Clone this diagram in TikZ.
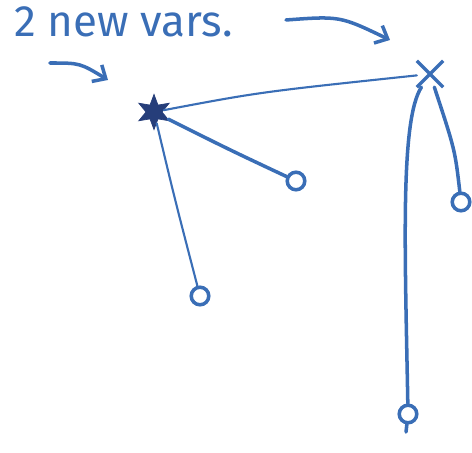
\documentclass[tikz,border=0pt]{standalone}
\usepackage{fontspec}
\setmainfont{Fira Sans}
\usetikzlibrary{arrows.meta,shapes.geometric,shapes.misc}
\definecolor{ink}{RGB}{58,110,182}
\definecolor{darkink}{RGB}{38,62,122}
\tikzset{
  pen/.style={draw=ink, line width=2pt, line cap=round, line join=round},
  thinpen/.style={draw=ink, line width=1.2pt, line cap=round},
  leaf/.style={circle, draw=ink, line width=2pt, minimum size=10pt, inner sep=0pt},
  hub/.style={star, star points=6, star point ratio=2.2, fill=darkink, draw=darkink, minimum size=20pt, inner sep=0pt},
  xhub/.style={cross out, draw=ink, line width=2pt, minimum size=13pt, inner sep=0pt},
  hand/.style={pen, -{Straight Barb[length=6pt,width=11pt,line width=2pt]}},
  label/.style={text=ink, font=\fontsize{25}{27}\selectfont, anchor=base west, inner sep=0pt}
}
\begin{document}
\begin{tikzpicture}[x=0.02cm,y=-0.02cm]
\useasboundingbox (0,0) rectangle (472,452);
\node[label] (title) at (14,37) {2 new vars.};
\node[hub] (A) at (154,112) {};
\node[xhub] (B) at (430,74) {};
\node[leaf] (C) at (296,181) {};
\node[leaf] (D) at (200,296) {};
\node[leaf] (E) at (461,202) {};
\node[leaf] (F) at (408,414) {};
\coordinate (a1s) at (50,63);
\coordinate (a1e) at (108,80);
\coordinate (a2s) at (286,20);
\coordinate (a2e) at (390,40);
\coordinate (Ftail) at (406,432);
\draw[hand] (a1s) .. controls (80,63) .. (a1e);
\draw[hand] (a2s) .. controls (340,16) .. (a2e);
\draw[thinpen] (A) .. controls (260,92) .. (B);
\draw[pen] (A) .. controls (230,150) .. (C);
\draw[thinpen] (A) .. controls (175,200) .. (D);
\draw[pen] (B) .. controls (455,150) .. (E);
\draw[pen] (B) .. controls (400,120) and (405,250) .. (F);
\draw[pen] (F) -- (Ftail);
\end{tikzpicture}
\end{document}
